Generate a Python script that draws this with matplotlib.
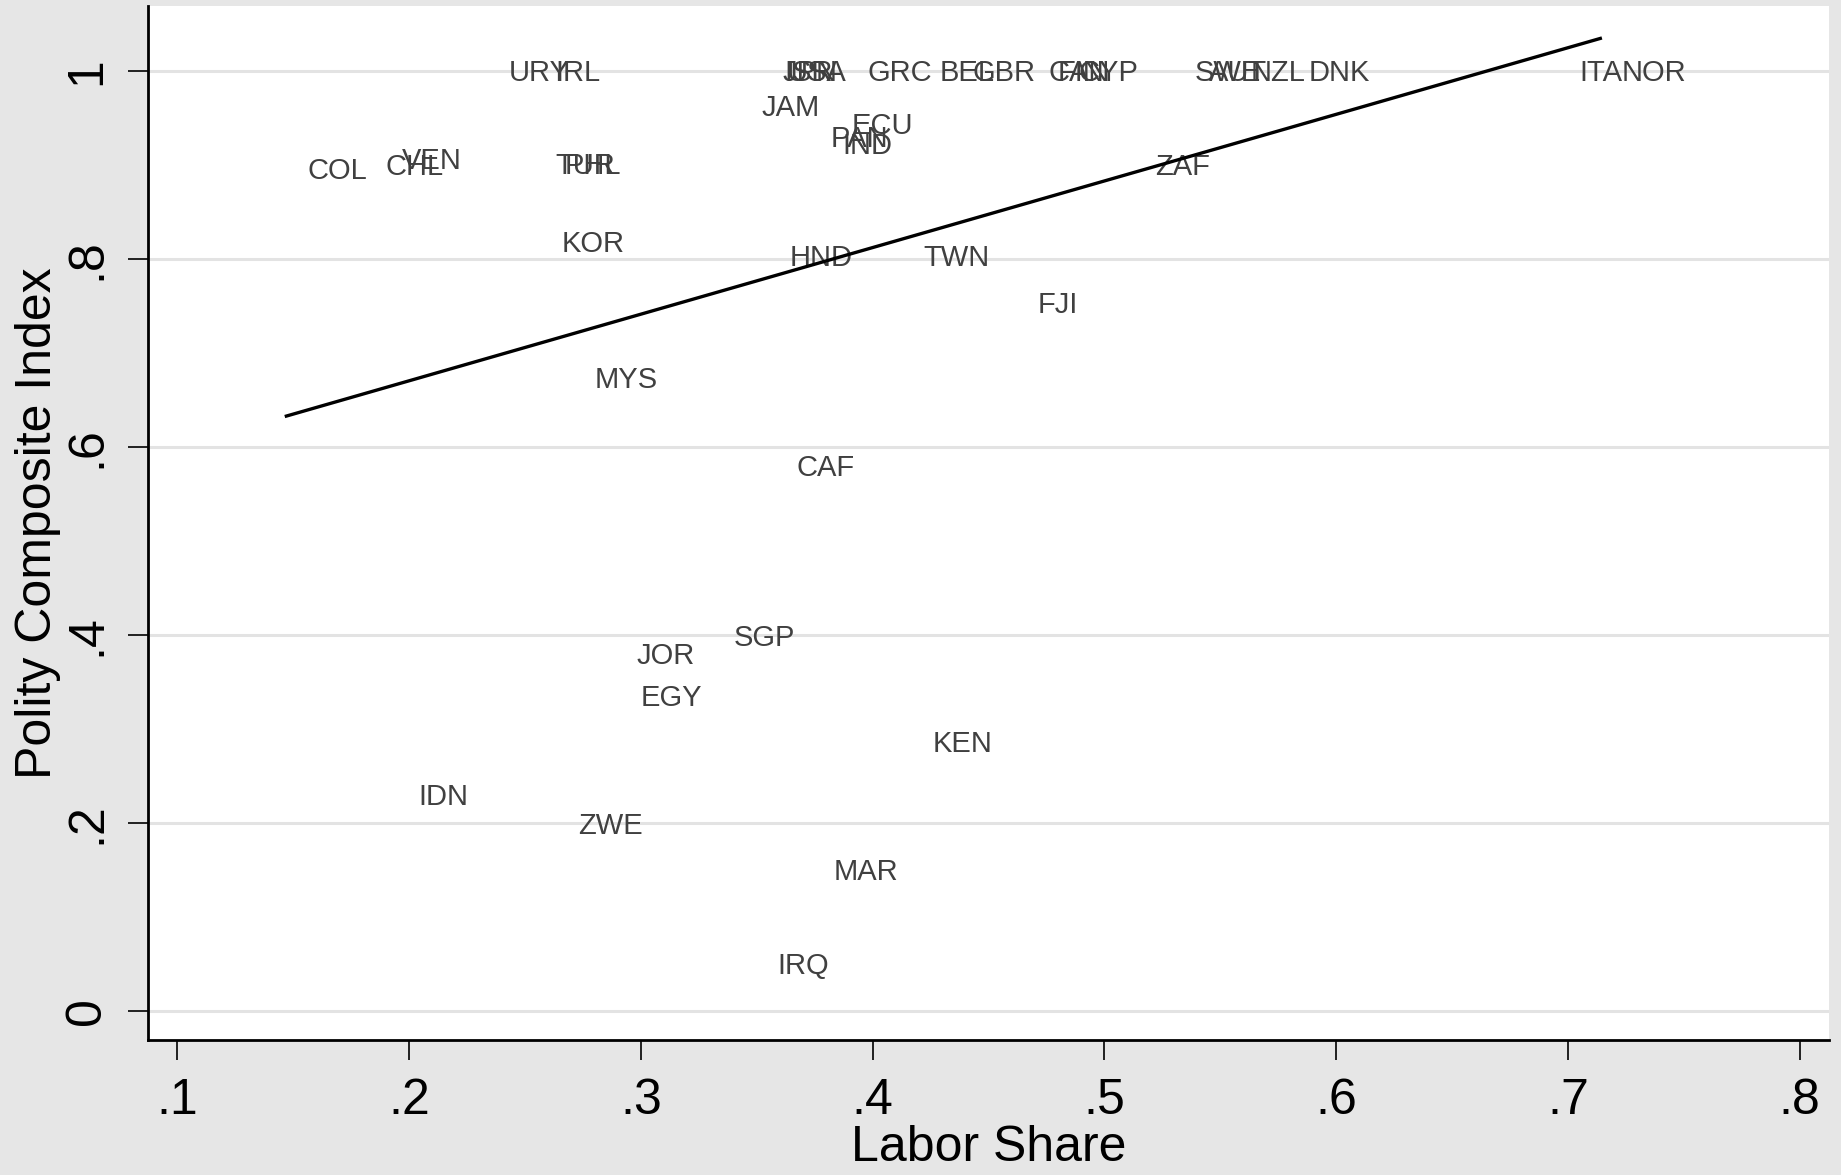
import numpy as np
import matplotlib.pyplot as plt

plt.rcParams['font.family'] = ['Liberation Sans', 'DejaVu Sans']

# country codes, labor share (x) and polity composite index (y)
codes = ['URY', 'IRL', 'JPN', 'ISR', 'USA', 'GRC', 'BEL', 'GBR', 'CAN', 'FIN',
         'CYP', 'SWE', 'AUT', 'NZL', 'DNK', 'ITA', 'NOR', 'JAM', 'ECU', 'PAN',
         'IND', 'TUR', 'PHL', 'CHL', 'VEN', 'COL', 'KOR', 'HND', 'TWN', 'FJI',
         'ZAF', 'MYS', 'CAF', 'SGP', 'JOR', 'EGY', 'KEN', 'IDN', 'ZWE', 'MAR',
         'IRQ']
labor_share = [0.234, 0.254, 0.352, 0.353, 0.354, 0.389, 0.420, 0.434, 0.467, 0.471,
               0.480, 0.530, 0.536, 0.554, 0.579, 0.696, 0.714, 0.343, 0.382, 0.373,
               0.378, 0.254, 0.258, 0.181, 0.188, 0.147, 0.257, 0.355, 0.413, 0.462,
               0.513, 0.271, 0.358, 0.331, 0.289, 0.291, 0.417, 0.195, 0.264, 0.374,
               0.350]
polity = [1.0, 1.0, 1.0, 1.0, 1.0, 1.0, 1.0, 1.0, 1.0, 1.0,
          1.0, 1.0, 1.0, 1.0, 1.0, 1.0, 1.0, 0.963, 0.944, 0.930,
          0.923, 0.901, 0.901, 0.900, 0.907, 0.896, 0.818, 0.804, 0.804, 0.753,
          0.900, 0.674, 0.580, 0.399, 0.380, 0.335, 0.286, 0.230, 0.199, 0.150,
          0.050]

x_ticks = [0.1, 0.2, 0.3, 0.4, 0.5, 0.6, 0.7, 0.8]
x_ticklabels = ['.1', '.2', '.3', '.4', '.5', '.6', '.7', '.8']
y_ticks = [0, 0.2, 0.4, 0.6, 0.8, 1.0]
y_ticklabels = ['0', '.2', '.4', '.6', '.8', '1']

x = np.array(labor_share)
y = np.array(polity)

fig = plt.figure(figsize=(18.41, 11.75), dpi=100, facecolor='#e6e6e6')
ax = fig.add_axes([0.0804, 0.1149, 0.9131, 0.88])
ax.set_facecolor('white')

for yt in y_ticks:
    ax.axhline(yt, color='#e3e3e3', lw=2.2, zorder=0)

for c, xv, yv in zip(codes, x, y):
    ax.annotate(c, (xv, yv), xytext=(15, -7.5), textcoords='offset points',
                ha='left', va='baseline', fontsize=21, color='#404040')

# linear fit
b, a = np.polyfit(x, y, 1)
xf = np.array([x.min(), x.max()])
ax.plot(xf, a + b * xf, color='black', lw=2.4, zorder=3)

ax.set_xlim(0.0873, 0.8127)
ax.set_ylim(-0.031, 1.069)
ax.set_xticks(x_ticks)
ax.set_xticklabels(x_ticklabels)
ax.set_yticks(y_ticks)
ax.set_yticklabels(y_ticklabels, rotation=90, va='center')
ax.tick_params(axis='both', length=14.4, width=1.2, labelsize=36, pad=13)

for s in ['top', 'right']:
    ax.spines[s].set_visible(False)
for s in ['left', 'bottom']:
    ax.spines[s].set_linewidth(2)

ax.set_xlabel('Labor Share', fontsize=36)
ax.set_ylabel('Polity Composite Index', fontsize=36)
ax.xaxis.set_label_coords(0.5, -0.082)
ax.yaxis.set_label_coords(-0.052, 0.5)

fig.savefig('out.png', dpi=100, facecolor=fig.get_facecolor())
